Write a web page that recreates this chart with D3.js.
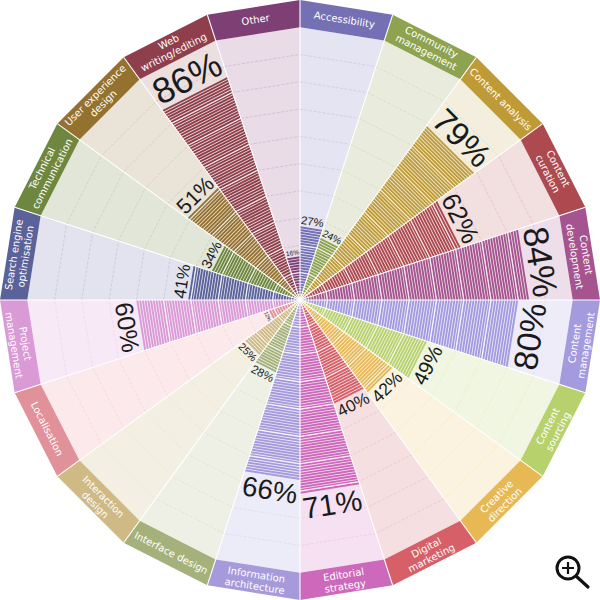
<!DOCTYPE html>
<html>
<head>
<meta charset="utf-8">
<script src="https://cdn.jsdelivr.net/npm/d3@7/dist/d3.min.js"></script>
<style>html,body{margin:0;padding:0;background:#fff}svg{display:block}text{text-rendering:geometricPrecision}</style>
</head>
<body>
<svg id="chart" width="600" height="600"></svg>
<script>
const categories = ["Accessibility","Community\nmanagement","Content analysis","Content\ncuration","Content\ndevelopment","Content\nmanagement","Content\nsourcing","Creative\ndirection","Digital\nmarketing","Editorial\nstrategy","Information\narchitecture","Interface design","Interaction\ndesign","Localisation","Project\nmanagement","Search engine\noptimisation","Technical\ncommunication","User experience\ndesign","Web\nwriting/editing","Other"];
const values = [27,24,79,62,84,80,49,42,40,71,66,28,25,12,60,41,34,51,86,16];
const gridTicks = [10,20,30,40,50,60,70,80,90];
const bandColors = ["#7570b3","#8da350","#bf9b38","#ad4a50","#a5548f","#a49bde","#b7d16d","#e7b955","#d65f68","#cc69bb","#a79adb","#a5b17a","#cfb985","#e0919a","#d99ad6","#5a6299","#6e863d","#957130","#8f3f4b","#7e3f75"];
const sectorColors = ["#e4e4f2","#e9ecdc","#f3eedd","#f2dfe0","#eedee9","#eeecf9","#f1f6e3","#fbf3e0","#f6dfe1","#f6e1f2","#ecebf8","#eef0e6","#f3f0e3","#fbe9eb","#f7e9f6","#e2e3ee","#e2e6d8","#e9e3d8","#ecdfdf","#e9dce6"];

const svg = d3.select("#chart");
const root = svg.append("g").attr("transform","translate(300,300)");
const r = d3.scaleLinear().domain([0,110]).range([0,300]);
const a = d3.scaleBand().domain(categories).range([0,360]);
const pt = (deg,rad)=>{const t=deg*Math.PI/180;return [rad*Math.sin(t),-rad*Math.cos(t)];};
const trap = (c,v0,v1)=>{
  const s=a(c), e=s+a.bandwidth();
  return "M"+[pt(s,r(v0)),pt(e,r(v0)),pt(e,r(v1)),pt(s,r(v1))].map(p=>p.join(",")).join("L")+"Z";
};

const sectors = root.selectAll("g.sector").data(categories).join("g").attr("class","sector");
sectors.append("path").attr("d",c=>trap(c,0,100)).attr("fill",(c,i)=>sectorColors[i]);
sectors.append("path").attr("d",c=>trap(c,100,110)).attr("fill",(c,i)=>bandColors[i]);

// grid rings on the empty part of the sector
sectors.each(function(c,i){
  const g=d3.select(this), s=a(c), e=s+a.bandwidth();
  g.selectAll("line.grid").data(gridTicks).join("line").attr("class","grid")
    .attr("x1",t=>pt(s,r(t))[0]).attr("y1",t=>pt(s,r(t))[1])
    .attr("x2",t=>pt(e,r(t))[0]).attr("y2",t=>pt(e,r(t))[1])
    .attr("stroke",bandColors[i]).attr("stroke-opacity",0.2).attr("stroke-width",0.9).attr("stroke-dasharray","3 1.5");
  // striped bar: one row per percent
  g.selectAll("path.row").data(d3.range(values[i])).join("path").attr("class","row")
    .attr("d",k=>trap(c,k+0.3,k+1)).attr("fill",bandColors[i]);
  g.selectAll("line.major").data(gridTicks.filter(t=>t<values[i])).join("line").attr("class","major")
    .attr("x1",t=>pt(s,r(t))[0]).attr("y1",t=>pt(s,r(t))[1])
    .attr("x2",t=>pt(e,r(t))[0]).attr("y2",t=>pt(e,r(t))[1])
    .attr("stroke","#fff").attr("stroke-width",0.9);
});

// separators
root.selectAll("line.sep").data(categories).join("line").attr("class","sep")
  .attr("x1",0).attr("y1",0)
  .attr("x2",c=>pt(a(c),r(110))[0]).attr("y2",c=>pt(a(c),r(110))[1])
  .attr("stroke","#fff").attr("stroke-width",1.1);
root.append("circle").attr("r",3.2).attr("fill","#fff").attr("stroke","#e6e0e0").attr("stroke-width",0.6);

const rot = c=>{const m=a(c)+a.bandwidth()/2; return (m>90&&m<270)?m-180:(m>270?m-360:m);};
const apo = Math.cos(9*Math.PI/180);

// value labels
const fontSize = v=>v*0.42;
root.selectAll("text.val").data(categories).join("text").attr("class","val")
  .attr("transform",(c,i)=>{
    const m=a(c)+a.bandwidth()/2, fs=fontSize(values[i]);
    const rad=r(values[i])*apo+1.5+values[i]*0.04+fs*0.36;
    const p=pt(m,rad);
    return `translate(${p[0]},${p[1]}) rotate(${rot(c)})`;
  })
  .attr("text-anchor","middle").attr("dy","0.36em")
  .attr("font-family","'Liberation Sans',Arial,sans-serif")
  .attr("font-size",(c,i)=>fontSize(values[i]))
  .attr("fill","#1a1a1a")
  .text((c,i)=>values[i]+"%");

// band labels
const bandLabels = root.selectAll("text.band").data(categories).join("text").attr("class","band")
  .attr("transform",c=>{
    const p=pt(a(c)+a.bandwidth()/2,r(105)*apo+1);
    return `translate(${p[0]},${p[1]}) rotate(${rot(c)})`;
  })
  .attr("text-anchor","middle")
  .attr("font-family","'DejaVu Sans',sans-serif").attr("font-size",10)
  .attr("fill","#fff");
bandLabels.each(function(c){
  const lines=c.split("\n"), n=lines.length;
  d3.select(this).selectAll("tspan").data(lines).join("tspan")
    .attr("x",0).attr("y",(l,i)=>(i-(n-1)/2)*11.5+3.5).text(l=>l);
});

// zoom icon
const icon = svg.append("g").attr("transform","translate(568,568)")
  .attr("fill","none").attr("stroke","#111");
icon.append("circle").attr("r",11).attr("stroke-width",3);
icon.append("path").attr("d","M-6,0H6M0,-6V6").attr("stroke-width",2.2);
icon.append("path").attr("d","M8.5,8.5L20,19").attr("stroke-width",3.2).attr("stroke-linecap","round");
</script>
</body>
</html>
